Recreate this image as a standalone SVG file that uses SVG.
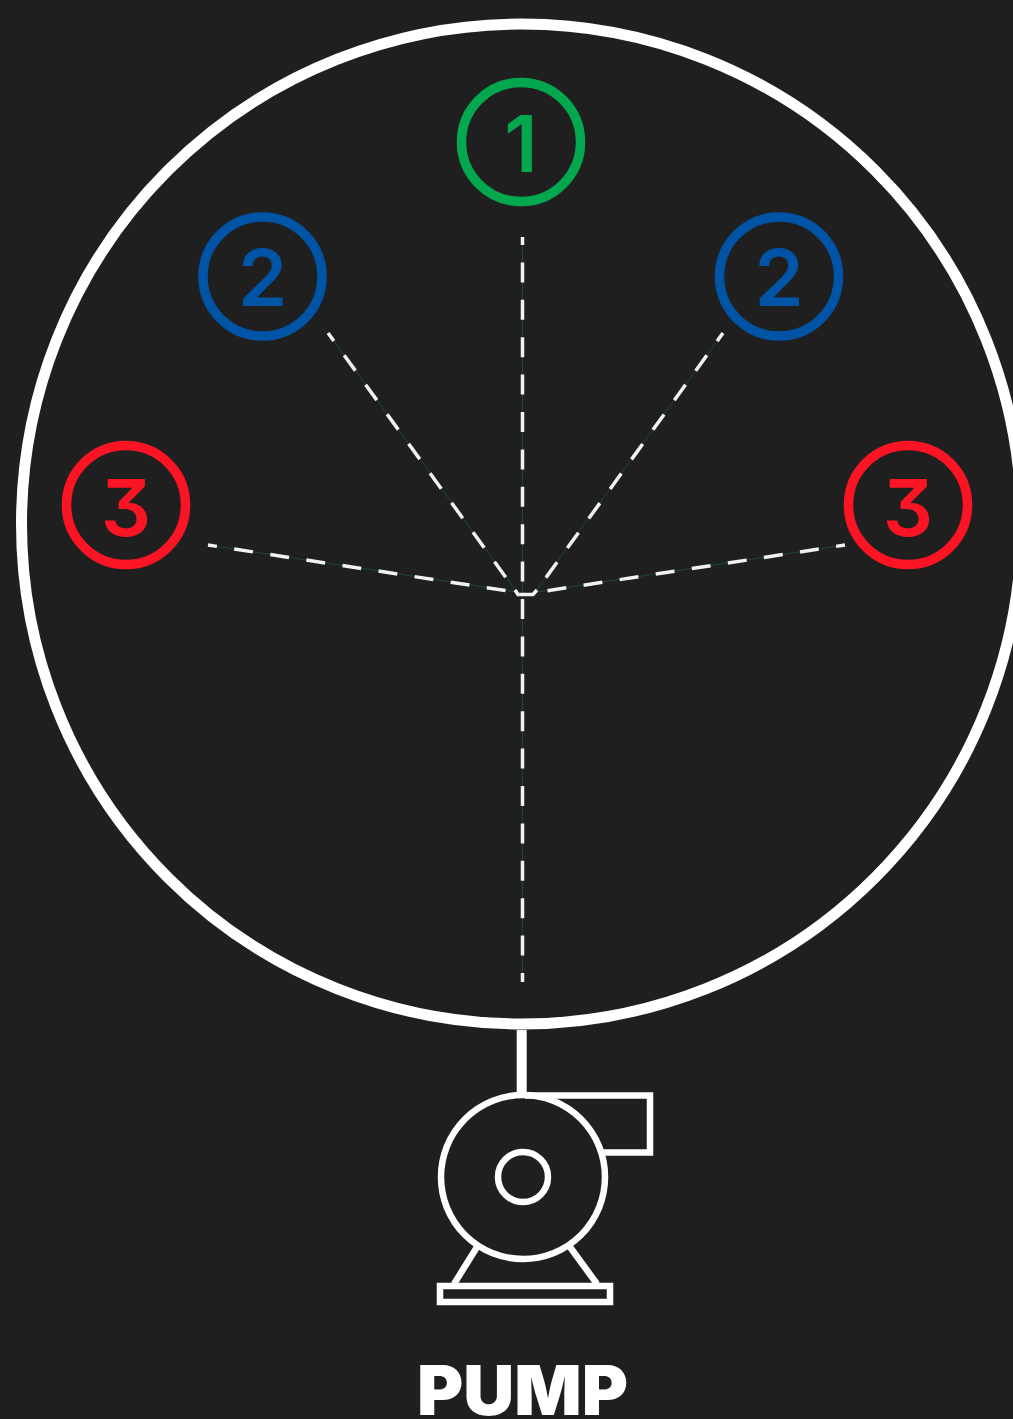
<svg xmlns="http://www.w3.org/2000/svg" width="1013" height="1419" viewBox="0 0 1013 1419">
<style>
.ring{fill:none;stroke-width:9.500}
.num{font-family:"Inter","Liberation Sans",sans-serif;font-weight:600;font-size:79px;text-anchor:middle;font-feature-settings:"cv09"}
.g{fill:none;stroke:#1a4a34;stroke-width:1}
.d{fill:none;stroke:#f2f2f2;stroke-width:3.500;stroke-dasharray:19 17.500}
.p{fill:none;stroke:#fff;stroke-width:6.500}
</style>
<rect width="1013" height="1419" fill="#1f1f1f"/>
<circle id="main-circle" cx="521.500" cy="524" r="500" fill="none" stroke="#fff" stroke-width="11"/>
<g id="connectors">
<path class="g" d="M522.500 237V982M208 545L517 592M845 545L537 592M328 333L517 592M723 333L535 592"/>
<path class="d" style="stroke-dasharray:20 17.400" d="M522.500 237V982" stroke-dashoffset="12"/>
<path class="d" d="M208 545L515 592" stroke-dashoffset="10"/>
<path class="d" d="M845 545L539 592" stroke-dashoffset="10"/>
<path class="d" d="M328 333L515 590" stroke-dashoffset="9"/>
<path class="d" d="M723 333L537 590" stroke-dashoffset="9"/>
<path fill="none" stroke="#f2f2f2" stroke-width="3.500" d="M515 590L518 594.500H533L537 590"/>
</g>
<g id="node-1"><circle class="ring" cx="521" cy="142" r="59.500" stroke="#03a84e"/><text class="num" x="521" y="172" fill="#03a84e">1</text></g>
<g id="node-2-left"><circle class="ring" cx="262.500" cy="276.500" r="59.500" stroke="#0054a6"/><text class="num" x="262.500" y="306" fill="#0054a6">2</text></g>
<g id="node-2-right"><circle class="ring" cx="779" cy="276.500" r="59.500" stroke="#0054a6"/><text class="num" x="779" y="306" fill="#0054a6">2</text></g>
<g id="node-3-left"><circle class="ring" cx="126" cy="505" r="59.500" stroke="#fb1524"/><text class="num" x="126" y="536" fill="#fb1524">3</text></g>
<g id="node-3-right"><circle class="ring" cx="908" cy="505" r="59.500" stroke="#fb1524"/><text class="num" x="908" y="536" fill="#fb1524">3</text></g>
<g id="pump">
<path d="M521.700 1030V1096" fill="none" stroke="#fff" stroke-width="10"/>
<circle class="p" cx="523" cy="1177" r="82"/>
<circle class="p" cx="523" cy="1177" r="25"/>
<path class="p" d="M525 1095.500H650V1152.500H602"/>
<rect class="p" x="440" y="1286" width="170" height="16"/>
<path class="p" d="M477 1247L454 1284M570 1247L597 1284"/>
<text x="522.500" y="1415" font-family="Inter,'Liberation Sans',sans-serif" font-weight="900" font-size="69" fill="#fff" text-anchor="middle" textLength="211" lengthAdjust="spacingAndGlyphs">PUMP</text>
</g>
</svg>
